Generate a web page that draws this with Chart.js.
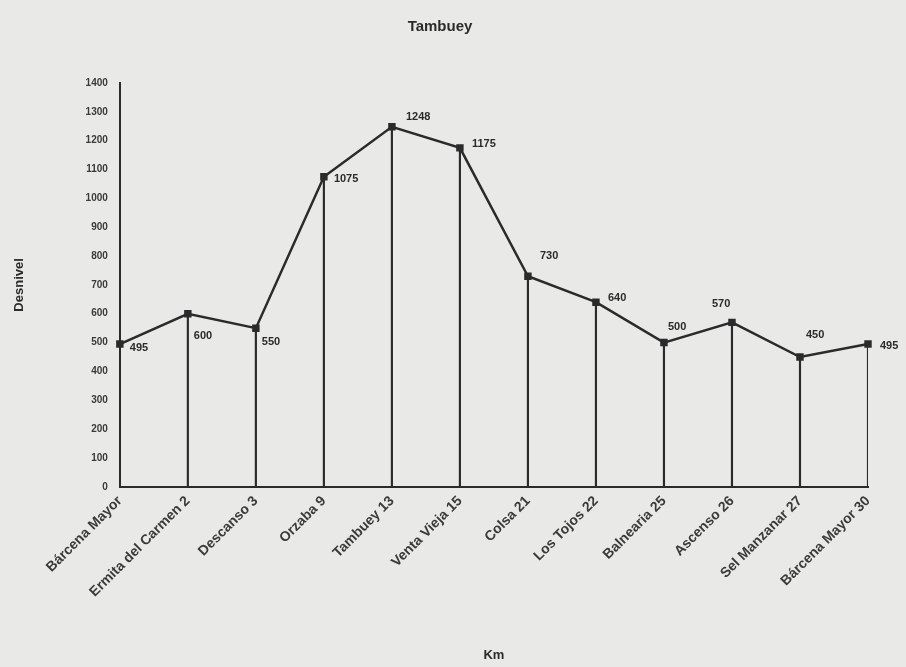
<!DOCTYPE html>
<html>
<head>
<meta charset="utf-8">
<script src="https://cdn.jsdelivr.net/npm/chart.js@4/dist/chart.umd.min.js"></script>
<style>
  html, body { margin: 0; padding: 0; background: #e9e9e7; }
  #wrap { width: 906px; height: 667px; }
</style>
</head>
<body>
<div id="wrap"><canvas id="chart" width="906" height="667"></canvas></div>
<script>
// Stops along the route (x categories)
const stops = [
    "Bárcena Mayor", "Ermita del Carmen 2", "Descanso 3", "Orzaba 9",
    "Tambuey 13", "Venta Vieja 15", "Colsa 21", "Los Tojos 22",
    "Balnearia 25", "Ascenso 26", "Sel Manzanar 27", "Bárcena Mayor 30"
];
// Elevation at each stop
const desnivel = [495, 600, 550, 1075, 1248, 1175, 730, 640, 500, 570, 450, 495];
// Y axis ticks
const yTicks = [0, 100, 200, 300, 400, 500, 600, 700, 800, 900, 1000, 1100, 1200, 1300, 1400];

const ink = "#2b2b2b";
const fontFamily = "'Liberation Sans', Arial, sans-serif";

// label offsets relative to the point (px)
const labelOffsets = [
    [10, 4], [6, 22], [6, 14], [10, 2], [14, -10], [12, -4],
    [12, -20], [12, -4], [4, -16], [-20, -18], [6, -22], [12, 2]
];

const valueLabels = {
    id: "valueLabels",
    afterDatasetsDraw(chart) {
        const meta = chart.getDatasetMeta(1);
        const ctx = chart.ctx;
        ctx.save();
        ctx.font = "bold 11px " + fontFamily;
        ctx.fillStyle = ink;
        ctx.textAlign = "left";
        ctx.textBaseline = "middle";
        meta.data.forEach((pt, i) => {
            const off = labelOffsets[i];
            ctx.fillText(String(desnivel[i]), pt.x + off[0], pt.y + off[1]);
        });
        ctx.restore();
    }
};

new Chart(document.getElementById("chart"), {
    type: "bar",
    data: {
        labels: stops,
        datasets: [
            {
                // thin drop lines from each point to the axis
                type: "bar",
                data: desnivel,
                backgroundColor: ink,
                barThickness: 1.5,
                order: 2
            },
            {
                type: "line",
                data: desnivel,
                borderColor: ink,
                borderWidth: 2.5,
                pointRadius: 3.5,
                pointStyle: "rect",
                pointBackgroundColor: ink,
                pointBorderColor: ink,
                tension: 0,
                order: 1
            }
        ]
    },
    options: {
        responsive: false,
        animation: false,
        layout: { padding: { left: 12, right: 38, top: 8, bottom: 4 } },
        plugins: {
            legend: { display: false },
            tooltip: { enabled: false },
            title: {
                display: true,
                text: "Tambuey",
                color: ink,
                font: { family: fontFamily, size: 15, weight: "bold" },
                padding: { top: 10, bottom: 47 }
            }
        },
        scales: {
            x: {
                offset: false,
                grid: { display: false, drawTicks: false },
                border: { color: ink, width: 2 },
                ticks: {
                    color: "#3a3a3a",
                    font: { family: fontFamily, size: 14, weight: "bold" },
                    minRotation: 45,
                    maxRotation: 45,
                    padding: 6,
                    autoSkip: false
                },
                title: {
                    display: true,
                    text: "Km",
                    color: ink,
                    font: { family: fontFamily, size: 13, weight: "bold" },
                    padding: { top: 41, bottom: 0 }
                }
            },
            y: {
                min: yTicks[0],
                max: yTicks[yTicks.length - 1],
                afterBuildTicks: axis => { axis.ticks = yTicks.map(v => ({ value: v })); },
                grid: { display: false, drawTicks: false },
                border: { color: ink, width: 2 },
                ticks: {
                    color: "#3a3a3a",
                    font: { family: fontFamily, size: 10, weight: "bold" },
                    padding: 12,
                    callback: v => String(v)
                },
                title: {
                    display: true,
                    text: "Desnivel",
                    color: ink,
                    font: { family: fontFamily, size: 13, weight: "bold" },
                    padding: { top: 0, bottom: 46 }
                }
            }
        }
    },
    plugins: [valueLabels]
});
</script>
</body>
</html>
